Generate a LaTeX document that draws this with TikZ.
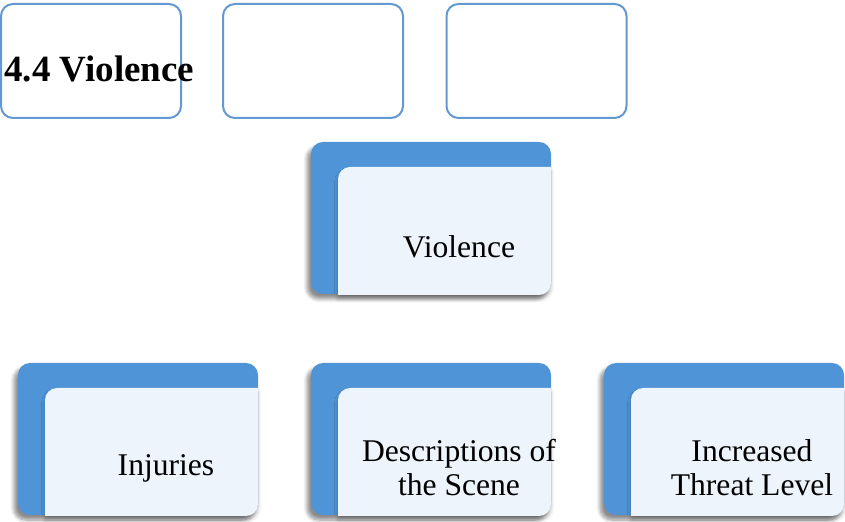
\documentclass[tikz,border=0pt]{standalone}
\usepackage{fontspec}
\setmainfont{Liberation Serif}
\newfontfamily\tilefont{Liberation Serif}
\usepackage{xcolor}
\usetikzlibrary{shadows.blur}

\definecolor{tileblue}{HTML}{4F94D6}
\definecolor{tilelight}{HTML}{EDF4FC}
\definecolor{frameblue}{HTML}{6498D0}

\tikzset{
  framebox/.style={draw=frameblue, line width=1pt, rounded corners=6pt,
    minimum width=90pt, minimum height=57pt, inner sep=0pt},
  backtile/.style={fill=tileblue, rounded corners=6pt,
    blur shadow={shadow xshift=-2pt, shadow yshift=-2.5pt,
      shadow blur steps=6, shadow opacity=45}},
  fronttile/.style={fill=tilelight,
    blur shadow={shadow xshift=0pt, shadow yshift=-2pt,
      shadow blur steps=6, shadow opacity=25}},
  tiletext/.style={align=center, inner sep=0pt,
    font=\tilefont\fontsize{15.8}{17}\selectfont}
}

% #1 name, #2 left, #3 top (pixels), #4 text
\newcommand{\vtile}[4]{%
  \path[backtile] (#2,#3) rectangle ++(240,152);
  \path[fronttile] (#2+27,#3+153) -- (#2+27,#3+37)
    arc[start angle=180, end angle=90, radius=6pt] -- (#2+240,#3+25)
    -- (#2+240,#3+141) arc[start angle=0, end angle=-90, radius=6pt]
    -- cycle;
  \node[tiletext] (#1) at (#2+148,#3+105) {#4};
}

\begin{document}
\begin{tikzpicture}[x=0.5pt,y=-0.5pt]
  \useasboundingbox (0,0) rectangle (845,522);

  % empty frames on top
  \node[framebox] (frame a) at (91,61) {};
  \node[framebox] (frame b) at (313,61) {};
  \node[framebox] (frame c) at (536.5,61) {};
  \node[font=\tilefont\bfseries\fontsize{18.5}{20}\selectfont, anchor=base west,
    inner sep=0pt] (heading) at (4,82) {4.4 Violence};

  \vtile{violence}{311}{142}{Violence}

  \vtile{injuries}{18}{363}{Injuries}
  \vtile{scene}{311}{363}{Descriptions of\\the Scene}
  \vtile{threat}{604}{363}{Increased\\Threat Level}
\end{tikzpicture}
\end{document}
